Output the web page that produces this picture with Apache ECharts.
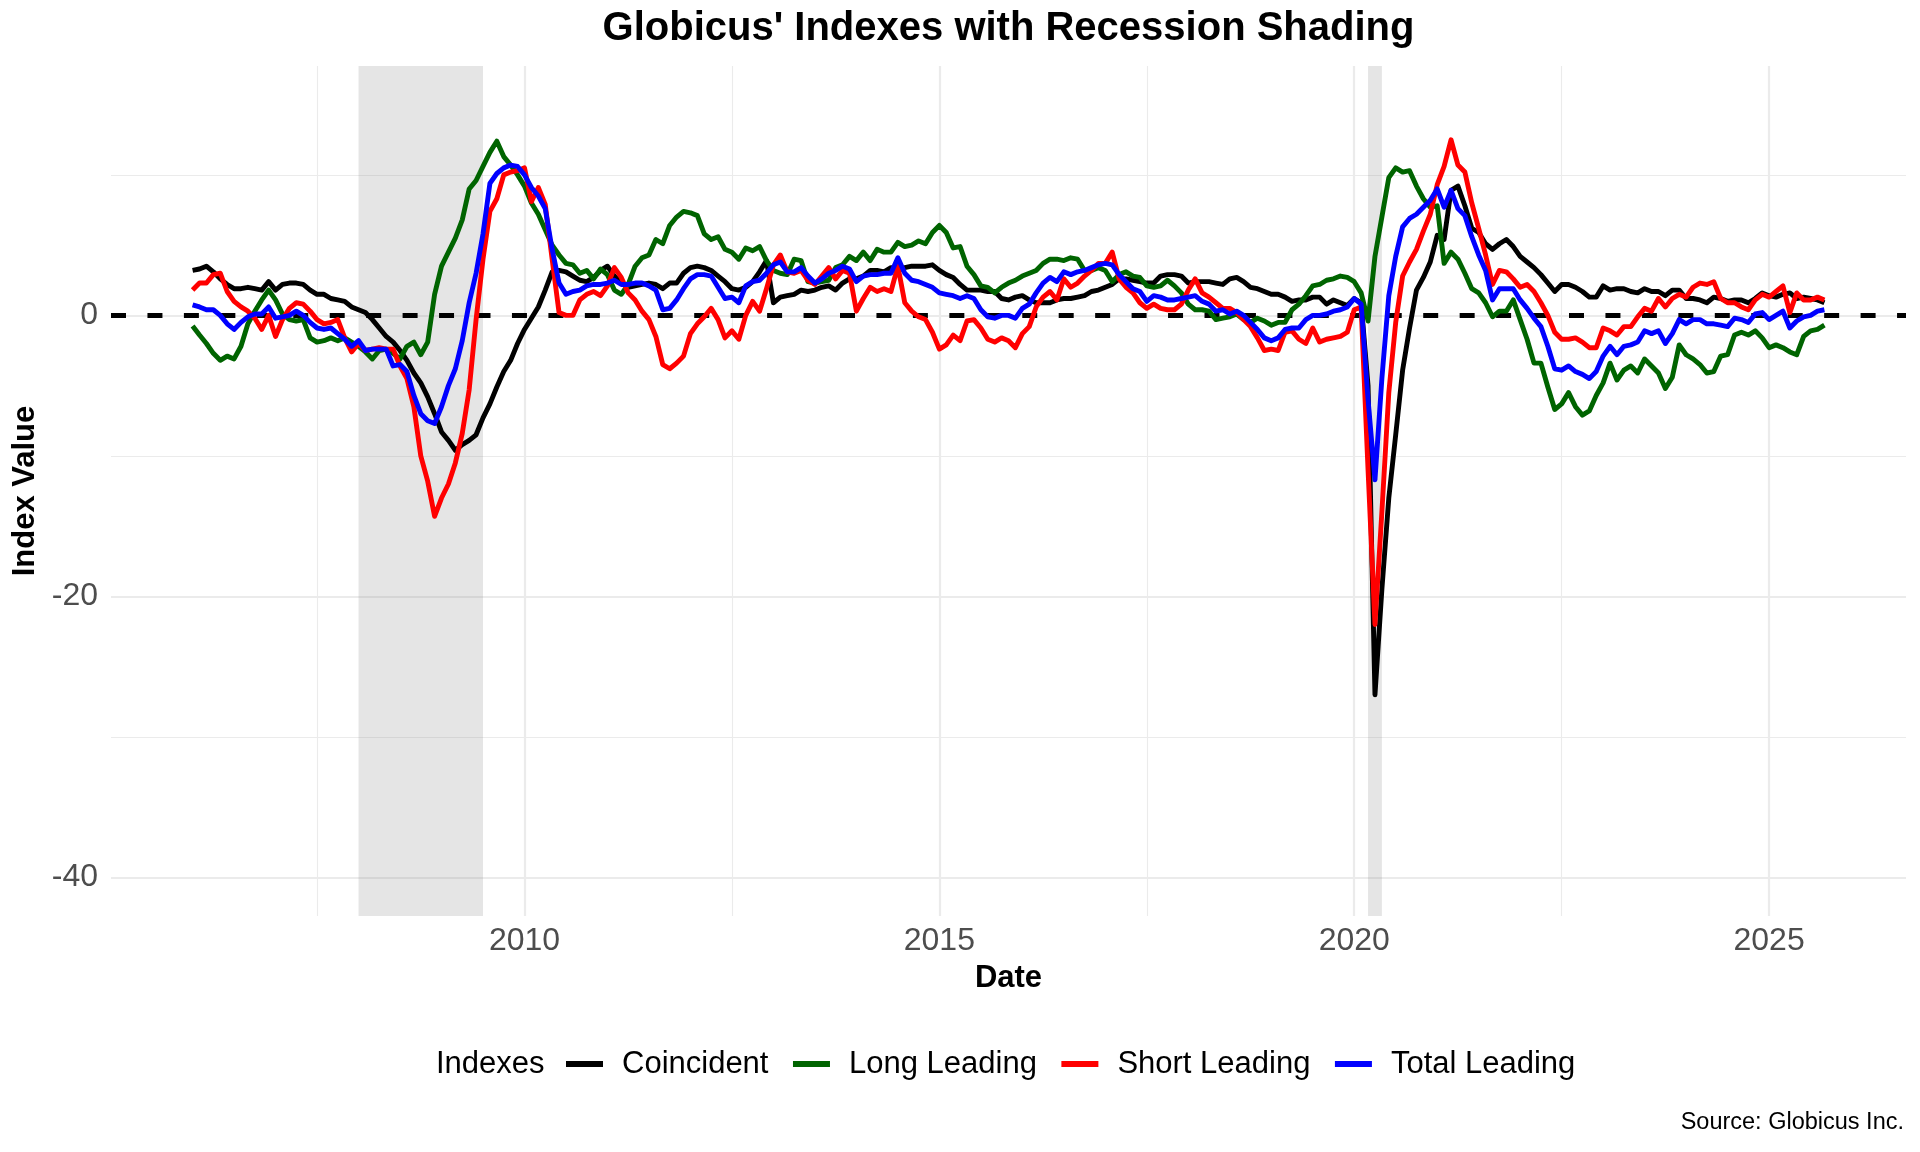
<!DOCTYPE html>
<html>
<head>
<meta charset="utf-8">
<script src="https://cdn.jsdelivr.net/npm/echarts@6/dist/echarts.min.js"></script>
<style>
html,body{margin:0;padding:0;background:#ffffff;}
#chart{width:1920px;height:1152px;}
</style>
</head>
<body>
<div id="chart"></div>
<script>
// Monthly observations, January 2006 through September 2025
const startYear = 2006;
const seriesNames = ['Coincident', 'Long Leading', 'Short Leading', 'Total Leading'];
const seriesColors = ['#000000', '#006400', '#FF0000', '#0000FF'];

const coincident = [
  3.2, 3.3, 3.5, 3.1, 2.6, 2.2, 1.9, 1.9, 2.0, 1.9,
  1.8, 2.4, 1.8, 2.2, 2.3, 2.3, 2.2, 1.8, 1.5, 1.5,
  1.2, 1.1, 1.0, 0.6, 0.4, 0.2, -0.3, -0.9, -1.5, -1.9,
  -2.5, -3.2, -4.1, -4.8, -5.8, -7.0, -8.3, -8.9, -9.6, -9.2,
  -8.9, -8.5, -7.3, -6.3, -5.1, -4.0, -3.2, -2.0, -1.0, -0.2,
  0.6, 1.8, 3.1, 3.2, 3.1, 2.8,
  2.5, 2.4, 2.7, 3.2, 3.5, 2.8, 2.3, 2.0, 2.1, 2.2,
  2.3, 2.2, 1.9, 2.3, 2.3, 3.0, 3.4, 3.5, 3.4, 3.2,
  2.8, 2.4, 1.9, 1.8, 2.0, 2.4, 3.1, 3.9, 0.9, 1.3,
  1.4, 1.5, 1.8, 1.7, 1.8, 2.0, 2.1, 1.8, 2.3, 2.6,
  2.6, 2.8, 3.2, 3.2, 3.1, 3.4, 3.2, 3.4, 3.5, 3.5,
  3.5, 3.6, 3.2, 2.9, 2.7, 2.2, 1.8,
  1.8, 1.8, 1.7, 1.7, 1.2, 1.1, 1.3, 1.4, 1.1, 0.9,
  0.9, 0.9, 1.1, 1.2, 1.2, 1.3, 1.4, 1.7, 1.8, 2.0,
  2.2, 2.6, 2.6, 2.5, 2.4, 2.3, 2.3, 2.8, 2.9, 2.9,
  2.8, 2.3, 2.4, 2.4, 2.4, 2.3, 2.2, 2.6, 2.7, 2.4,
  2.0, 1.9, 1.7, 1.5, 1.5, 1.3, 1.0, 1.1, 1.1, 1.3,
  1.3, 0.8, 1.1, 0.9, 0.7, 1.2,
  0.9, -5.0, -27.0, -19.5, -13.0, -8.5, -3.9, -0.9, 1.8, 2.7,
  3.8, 5.7, 5.4, 8.9, 9.2, 7.8, 6.2, 5.9, 5.1, 4.7,
  5.1, 5.4, 4.9, 4.2, 3.8, 3.4, 2.9, 2.3, 1.7, 2.2,
  2.2, 2.0, 1.7, 1.3, 1.3, 2.1, 1.8, 1.9, 1.9, 1.7,
  1.6, 1.9, 1.7, 1.7, 1.4, 1.8, 1.8, 1.2, 1.2, 1.1,
  0.9, 1.3, 1.2, 1.0, 1.1, 1.1, 0.9, 1.2, 1.6, 1.4,
  1.3, 1.5, 1.6, 1.2, 1.3, 1.2, 1.1, 0.9
];

const longLeading = [
  -0.75, -1.4, -2.0, -2.7, -3.2, -2.9, -3.1, -2.2, -0.6, 0.3,
  1.1, 1.8, 1.1, 0.1, -0.3, -0.4, -0.3, -1.6, -1.9, -1.8,
  -1.6, -1.8, -1.6, -1.9, -2.2, -2.6, -3.1, -2.5, -2.4, -2.7,
  -3.1, -2.2, -1.9, -2.8, -1.9, 1.5, 3.5, 4.5, 5.5, 6.8,
  9.0, 9.6, 10.6, 11.6, 12.4, 11.3, 10.7, 10.0, 9.2, 8.0,
  7.2, 6.1, 5.0, 4.3, 3.7, 3.6,
  3.0, 3.2, 2.6, 3.3, 2.9, 1.8, 1.5, 2.2, 3.5, 4.1,
  4.3, 5.4, 5.1, 6.4, 7.0, 7.4, 7.3, 7.1, 5.8, 5.4,
  5.6, 4.7, 4.5, 4.0, 4.8, 4.6, 4.9, 3.9, 3.2, 3.0,
  2.9, 4.0, 3.9, 2.4, 2.3, 2.4, 2.5, 3.4, 3.6, 4.2,
  3.9, 4.5, 3.9, 4.7, 4.5, 4.5, 5.2, 4.9, 5.0, 5.3,
  5.1, 5.9, 6.4, 5.9, 4.8, 4.9, 3.5,
  2.9, 2.1, 2.0, 1.6, 2.0, 2.3, 2.5, 2.8, 3.0, 3.2,
  3.7, 4.0, 4.0, 3.9, 4.1, 4.0, 3.2, 3.2, 3.4, 3.2,
  2.4, 2.9, 3.1, 2.8, 2.7, 2.1, 2.0, 2.1, 2.5, 2.1,
  1.6, 0.8, 0.4, 0.4, 0.3, -0.3, -0.2, -0.1, 0.1, -0.3,
  -0.5, -0.2, -0.4, -0.7, -0.5, -0.5, 0.4, 0.8, 1.4, 2.1,
  2.2, 2.5, 2.6, 2.8, 2.7, 2.4,
  1.6, -0.4, 4.2, 7.0, 9.8, 10.5, 10.2, 10.3, 9.2, 8.3,
  7.7, 7.8, 3.7, 4.5, 4.0, 3.0, 1.9, 1.6, 0.9, -0.1,
  0.3, 0.3, 1.1, -0.3, -1.7, -3.4, -3.4, -5.1, -6.7, -6.3,
  -5.5, -6.5, -7.1, -6.8, -5.7, -4.8, -3.4, -4.6, -3.9, -3.6,
  -4.1, -3.1, -3.6, -4.1, -5.2, -4.4, -2.1, -2.8, -3.1, -3.5,
  -4.1, -4.0, -2.9, -2.8, -1.4, -1.2, -1.4, -1.1, -1.6, -2.3,
  -2.1, -2.3, -2.6, -2.8, -1.5, -1.1, -1.0, -0.7
];

const shortLeading = [
  1.8, 2.3, 2.3, 2.9, 3.0, 1.7, 1.0, 0.6, 0.3, -0.2,
  -1.0, 0.0, -1.5, -0.3, 0.5, 0.9, 0.8, 0.3, -0.3, -0.6,
  -0.5, -0.3, -1.6, -2.6, -2.0, -2.5, -2.4, -2.3, -2.4, -2.4,
  -3.6, -4.5, -6.5, -10.0, -11.8, -14.3, -13.0, -12.0, -10.5, -8.4,
  -5.3, -0.3, 4.0, 7.4, 8.3, 10.0, 10.2, 10.3, 10.5, 8.1,
  9.1, 7.9, 4.0, 0.2, 0.0, 0.0, 1.1,
  1.5, 1.7, 1.4, 2.1, 3.4, 2.7, 1.6, 1.1, 0.3, -0.3,
  -1.5, -3.5, -3.8, -3.4, -2.9, -1.3, -0.6, -0.1, 0.5, -0.3,
  -1.6, -1.1, -1.7, 0.0, 1.0, 0.3, 1.9, 3.6, 4.3, 3.1,
  3.0, 3.2, 2.5, 2.2, 2.8, 3.4, 2.6, 3.2, 3.0, 0.3,
  1.2, 2.0, 1.7, 1.9, 1.7, 3.5, 0.9, 0.3, -0.1, -0.3,
  -1.2, -2.4, -2.1, -1.4, -1.8, -0.4,
  -0.3, -0.9, -1.7, -1.9, -1.6, -1.8, -2.3, -1.3, -0.8, 0.6,
  1.3, 1.7, 1.1, 2.6, 2.0, 2.3, 2.8, 3.2, 3.7, 3.7,
  4.5, 2.6, 2.0, 1.6, 0.9, 0.5, 0.8, 0.5, 0.4, 0.4,
  0.8, 1.8, 2.6, 1.6, 1.3, 0.9, 0.5, 0.5, 0.2, -0.3,
  -0.8, -1.6, -2.5, -2.4, -2.5, -1.2, -1.1, -1.7, -2.0, -0.9,
  -1.9, -1.7, -1.6, -1.5, -1.2, 0.4,
  0.6, -11.0, -22.0, -14.0, -5.5, -0.5, 2.8, 3.8, 4.7, 6.0,
  7.2, 9.3, 10.6, 12.5, 10.7, 10.2, 8.0, 6.2, 4.3, 2.2,
  3.2, 3.1, 2.6, 2.0, 2.2, 1.7, 0.9, 0.0, -1.2, -1.7,
  -1.7, -1.6, -1.9, -2.3, -2.3, -0.9, -1.1, -1.4, -0.8, -0.8,
  -0.1, 0.5, 0.3, 1.2, 0.6, 1.2, 1.5, 1.3, 2.0, 2.3,
  2.2, 2.4, 1.2, 0.9, 0.9, 0.6, 0.4, 1.1, 1.5, 1.3,
  1.7, 2.1, 0.2, 1.6, 1.1, 1.1, 1.3, 1.1
];

const totalLeading = [
  0.75, 0.6, 0.4, 0.4, 0.0, -0.6, -1.0, -0.5, -0.1, 0.1,
  0.1, 0.6, -0.2, -0.1, 0.0, 0.3, 0.0, -0.5, -0.9, -1.0,
  -0.9, -1.3, -1.7, -2.2, -1.8, -2.5, -2.4, -2.4, -2.4, -3.6,
  -3.5, -4.0, -5.7, -7.0, -7.5, -7.7, -6.5, -5.0, -3.8, -1.8,
  0.9, 3.0, 5.8, 9.4, 10.1, 10.5, 10.7, 10.6, 10.0, 9.1,
  8.5, 7.6, 4.7, 2.3, 1.5, 1.7, 1.8,
  2.1, 2.2, 2.2, 2.3, 2.5, 2.2, 2.2, 2.3, 2.3, 2.1,
  1.8, 0.4, 0.5, 1.1, 1.9, 2.6, 2.9, 2.9, 2.8, 2.0,
  1.2, 1.3, 0.9, 2.1, 2.4, 2.5, 3.0, 3.6, 3.8, 3.1,
  3.1, 3.4, 2.8, 2.3, 2.6, 3.0, 3.2, 3.5, 3.3, 2.4,
  2.8, 2.9, 2.9, 3.0, 3.0, 4.1, 3.0, 2.5, 2.4, 2.2,
  2.0, 1.6, 1.5, 1.4, 1.2, 1.4,
  1.2, 0.4, -0.1, -0.2, 0.0, 0.0, -0.2, 0.5, 0.8, 1.6,
  2.3, 2.7, 2.4, 3.1, 2.9, 3.1, 3.2, 3.4, 3.6, 3.7,
  3.6, 2.9, 2.4, 1.9, 1.7, 1.0, 1.4, 1.3, 1.1, 1.1,
  1.2, 1.3, 1.4, 1.0, 0.8, 0.3, 0.4, 0.1, 0.3, 0.0,
  -0.5, -1.0, -1.6, -1.8, -1.6, -1.0, -0.9, -0.9, -0.3, 0.0,
  0.0, 0.1, 0.3, 0.4, 0.6, 1.2,
  0.8, -6.0, -11.7, -4.5, 1.4, 4.2, 6.3, 6.9, 7.2, 7.7,
  8.2, 9.0, 7.7, 8.9, 7.6, 7.1, 5.6, 4.3, 3.2, 1.1,
  1.9, 1.9, 1.9, 1.1, 0.5, -0.2, -0.8, -2.2, -3.8, -3.9,
  -3.6, -4.0, -4.2, -4.5, -4.0, -2.9, -2.2, -2.8, -2.2, -2.1,
  -1.9, -1.1, -1.3, -1.1, -2.0, -1.3, -0.3, -0.6, -0.3, -0.3,
  -0.6, -0.6, -0.7, -0.8, -0.2, -0.3, -0.5, 0.1, 0.2, -0.3,
  0.0, 0.3, -0.9, -0.4, -0.1, 0.0, 0.3, 0.4
];

// Recession periods (year, month) start -> end
const recessions = [[[2008, 1], [2009, 7]], [[2020, 3], [2020, 5]]];

// Axis ticks and gridlines
const xTickLabels = [2010, 2015, 2020, 2025];
const xMinorGrid = [2007.5, 2012.5, 2017.5, 2022.5];
const yTickLabels = [-40, -20, 0];
const yMinorGrid = [-30, -10, 10];
const yLimits = [-40, 15];

// ---- build ----
const allSeries = [coincident, longLeading, shortLeading, totalLeading];
const xs = coincident.map((_, i) => startYear + i / 12);
const xSpan = xs[xs.length - 1] - xs[0];
const xMin = xs[0] - 0.05 * xSpan;
const xMax = xs[xs.length - 1] + 0.05 * xSpan;
const ySpan = yLimits[1] - yLimits[0];
const yMin = yLimits[0] - 0.05 * ySpan;
const yMax = yLimits[1] + 0.05 * ySpan;
const ym = (p) => p[0] + (p[1] - 1) / 12;

const FONT = 'Liberation Sans';
const gridMajor = { color: '#EBEBEB', width: 2.2, type: 'solid' };
const gridMinor = { color: '#EBEBEB', width: 1.1, type: 'solid' };

const gridLines = [].concat(
  xMinorGrid.map(v => ({ xAxis: v, lineStyle: gridMinor })),
  xTickLabels.map(v => ({ xAxis: v, lineStyle: gridMajor })),
  yMinorGrid.map(v => ({ yAxis: v, lineStyle: gridMinor })),
  yTickLabels.map(v => ({ yAxis: v, lineStyle: gridMajor }))
);

const chart = echarts.init(document.getElementById('chart'), null, { renderer: 'canvas' });

const series = [
  {
    name: 'gridlines', type: 'line', data: [], z: 0, silent: true,
    markLine: {
      z: 0, silent: true, animation: false, symbol: ['none', 'none'],
      label: { show: false }, lineStyle: { type: 'solid' },
      emphasis: { disabled: true },
      data: gridLines
    }
  },
  {
    name: 'recessions', type: 'line', data: [], z: 1, silent: true,
    markArea: {
      z: 1, silent: true, animation: false,
      itemStyle: { color: 'rgba(127,127,127,0.2)' },
      emphasis: { disabled: true },
      data: recessions.map(r => [{ xAxis: ym(r[0]) }, { xAxis: ym(r[1]) }])
    }
  },
  {
    name: 'zero', type: 'line', z: 2, silent: true, symbol: 'none',
    data: [[xMin, 0], [xMax, 0]],
    lineStyle: { color: '#000000', width: 5, type: [15, 21.45], cap: 'butt' }
  }
];

seriesNames.forEach((name, k) => {
  series.push({
    name: name,
    type: 'line',
    z: 3,
    symbol: 'none',
    showSymbol: false,
    silent: true,
    data: allSeries[k].map((v, i) => [xs[i], v]),
    lineStyle: { color: seriesColors[k], width: 4.9, join: 'round', cap: 'butt' },
    itemStyle: { color: seriesColors[k] },
    emphasis: { disabled: true }
  });
});

const option = {
  animation: false,
  backgroundColor: '#ffffff',
  textStyle: { fontFamily: FONT },
  title: {
    text: "Globicus' Indexes with Recession Shading",
    left: 1008.5, top: 8.5, padding: 0,
    textAlign: 'center',
    textStyle: { fontFamily: FONT, fontSize: 40, fontWeight: 'bold', color: '#000000' }
  },
  grid: { left: 111, right: 14, top: 66, bottom: 236, containLabel: false },
  xAxis: {
    type: 'value', min: xMin, max: xMax,
    name: 'Date', nameLocation: 'middle', nameGap: 46.5,
    nameTextStyle: { fontFamily: FONT, fontSize: 31, fontWeight: 'bold', color: '#000000' },
    axisLine: { show: false }, axisTick: { show: false },
    splitLine: { show: false }, minorSplitLine: { show: false },
    axisLabel: {
      customValues: xTickLabels,
      fontFamily: FONT, fontSize: 32, color: '#4D4D4D', margin: 9,
      formatter: v => String(v)
    }
  },
  yAxis: {
    type: 'value', min: yMin, max: yMax,
    name: 'Index Value', nameLocation: 'middle', nameRotate: 90, nameGap: 65.5,
    nameTextStyle: { fontFamily: FONT, fontSize: 31, fontWeight: 'bold', color: '#000000' },
    axisLine: { show: false }, axisTick: { show: false },
    splitLine: { show: false }, minorSplitLine: { show: false },
    axisLabel: {
      customValues: yTickLabels,
      fontFamily: FONT, fontSize: 32, color: '#4D4D4D', margin: 13,
      formatter: v => String(v)
    }
  },
  legend: {
    data: seriesNames.map(n => ({ name: n, icon: 'rect' })),
    left: 566, top: 1048.5, padding: 0,
    itemWidth: 37, itemHeight: 6, itemGap: 24.5,
    selectedMode: false,
    textStyle: { fontFamily: FONT, fontSize: 31, color: '#000000', padding: [0, 0, 0, 14] }
  },
  graphic: [
    {
      type: 'text', x: 436, y: 1064, silent: true,
      style: { text: 'Indexes', fill: '#000000', fontFamily: FONT, fontSize: 31,
               textAlign: 'left', textVerticalAlign: 'middle' }
    },
    {
      type: 'text', x: 1904, y: 1123, silent: true,
      style: { text: 'Source: Globicus Inc.', fill: '#000000', fontFamily: FONT, fontSize: 23.5,
               textAlign: 'right', textVerticalAlign: 'middle' }
    }
  ],
  tooltip: { show: false },
  series: series
};

chart.setOption(option);
</script>
</body>
</html>
